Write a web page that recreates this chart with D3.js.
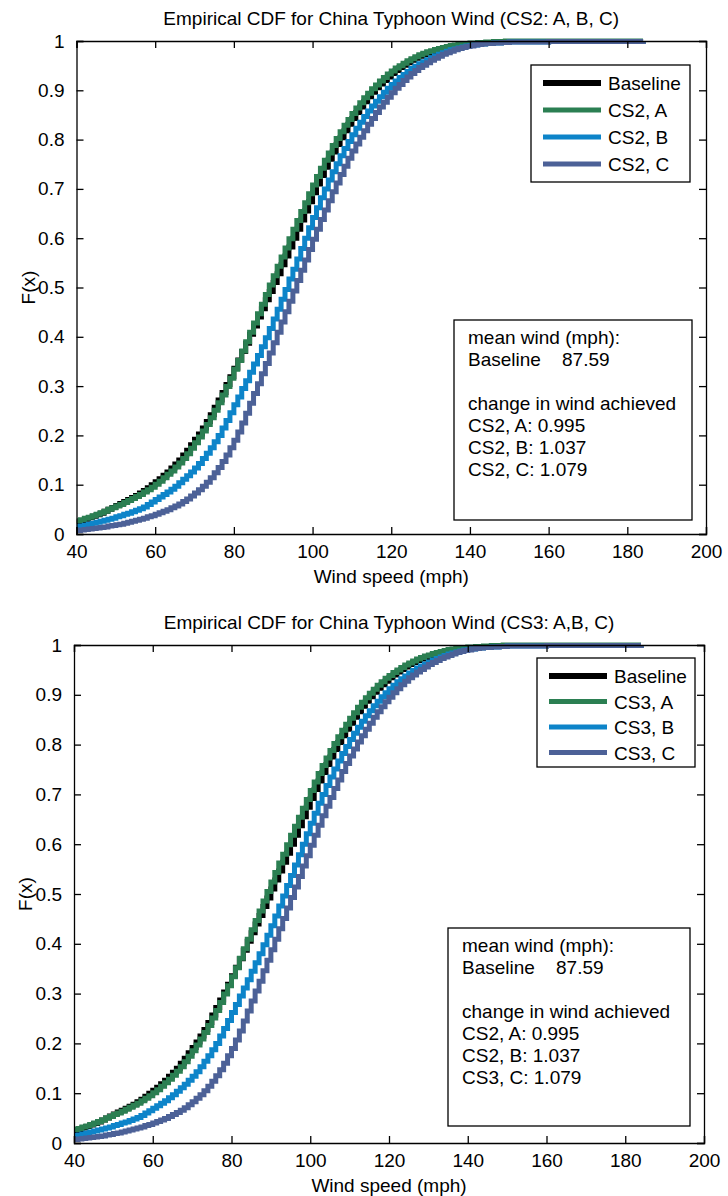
<!DOCTYPE html>
<html>
<head>
<meta charset="utf-8">
<script src="https://cdn.jsdelivr.net/npm/d3@7"></script>
<style>
  body { margin: 0; background: #fff; }
  svg { display: block; font-family: "Liberation Sans", Arial, sans-serif; }
</style>
</head>
<body>
<div id="chart"></div>
<script>
// wind speed grid (mph) at which the empirical CDFs step
const speeds = [40, 41, 42, 43, 44, 45, 46, 47, 48, 49,
  50, 51, 52, 53, 54, 55, 56, 57, 58, 59,
  60, 61, 62, 63, 64, 65, 66, 67, 68, 69,
  70, 71, 72, 73, 74, 75, 76, 77, 78, 79,
  80, 81, 82, 83, 84, 85, 86, 87, 88, 89,
  90, 91, 92, 93, 94, 95, 96, 97, 98, 99,
  100, 101, 102, 103, 104, 105, 106, 107, 108, 109,
  110, 111, 112, 113, 114, 115, 116, 117, 118, 119,
  120, 121, 122, 123, 124, 125, 126, 127, 128, 129,
  130, 131, 132, 133, 134, 135, 136, 137, 138, 139,
  140, 141, 142, 143, 144, 145, 146, 147, 148, 149,
  150, 160, 184];

const baseline = [.025, .027, .030, .033, .036, .039, .042, .046, .050, .054,
  .058, .062, .066, .070, .074, .078, .083, .088, .094, .100,
  .106, .112, .119, .126, .134, .142, .150, .160, .170, .181,
  .192, .203, .215, .228, .242, .257, .272, .287, .303, .319,
  .336, .353, .370, .387, .405, .422, .440, .457, .475, .492,
  .510, .528, .546, .564, .582, .600, .618, .637, .655, .674,
  .692, .710, .727, .744, .760, .775, .790, .804, .818, .831,
  .843, .855, .866, .877, .887, .896, .905, .913, .920, .927,
  .934, .940, .946, .951, .956, .961, .965, .969, .972, .975,
  .978, .981, .983, .985, .987, .989, .990, .992, .993, .994,
  .995, .995, .996, .996, .997, .997, .998, .998, .998, .998,
  .999, .999, 1];

const caseA = [.027, .029, .032, .034, .037, .040, .043, .046, .050, .053,
  .057, .060, .064, .068, .072, .076, .080, .085, .090, .095,
  .101, .107, .114, .121, .128, .136, .144, .153, .163, .174,
  .185, .197, .209, .222, .236, .251, .266, .282, .299, .316,
  .334, .352, .371, .390, .409, .428, .447, .466, .486, .505,
  .524, .543, .562, .580, .599, .618, .636, .654, .672, .690,
  .708, .725, .742, .758, .773, .788, .802, .816, .829, .841,
  .853, .864, .875, .885, .894, .903, .911, .919, .926, .933,
  .939, .945, .950, .955, .960, .964, .968, .972, .975, .978,
  .980, .983, .985, .987, .989, .991, .992, .993, .994, .995,
  .996, .996, .997, .997, .998, .998, .999, .999, .999, 1,
  1, 1, 1];

const caseB = [.015, .016, .018, .020, .022, .024, .026, .028, .030, .032,
  .035, .037, .040, .042, .045, .048, .051, .055, .060, .065,
  .070, .075, .080, .085, .091, .097, .104, .111, .118, .126,
  .134, .143, .153, .164, .175, .187, .200, .215, .230, .246,
  .262, .278, .295, .311, .328, .345, .362, .380, .398, .417,
  .436, .456, .476, .496, .517, .537, .558, .579, .600, .621,
  .642, .662, .682, .700, .718, .735, .751, .767, .782, .796,
  .810, .823, .835, .847, .858, .868, .878, .887, .896, .904,
  .912, .919, .926, .932, .938, .944, .949, .954, .958, .962,
  .966, .970, .973, .976, .979, .982, .984, .986, .988, .990,
  .991, .992, .993, .994, .995, .995, .996, .996, .997, .997,
  .998, .999, 1];

const caseC = [.007, .008, .009, .010, .011, .012, .013, .014, .016, .017,
  .019, .020, .022, .024, .026, .028, .030, .032, .035, .037,
  .040, .043, .046, .049, .053, .057, .061, .066, .071, .077,
  .083, .090, .097, .105, .114, .124, .135, .147, .160, .175,
  .190, .207, .225, .245, .265, .285, .305, .325, .346, .367,
  .388, .409, .430, .451, .472, .493, .514, .535, .556, .577,
  .598, .618, .638, .657, .676, .694, .712, .729, .746, .762,
  .777, .791, .805, .818, .831, .843, .855, .866, .876, .886,
  .895, .904, .912, .920, .927, .934, .940, .946, .951, .956,
  .961, .965, .969, .973, .976, .979, .982, .985, .987, .989,
  .990, .992, .993, .994, .995, .995, .996, .996, .997, .997,
  .998, .999, 1];

const xTicks = [40, 60, 80, 100, 120, 140, 160, 180, 200];
const yTicks = [0, 0.1, 0.2, 0.3, 0.4, 0.5, 0.6, 0.7, 0.8, 0.9, 1];
const colors = ["#000000", "#2b7f52", "#0d84c9", "#4c6197"];

const titles = ["Empirical CDF for China Typhoon Wind (CS2: A, B, C)",
  "Empirical CDF for China Typhoon Wind (CS3: A,B, C)"];
const legendTop = ["Baseline", "CS2, A", "CS2, B", "CS2, C"];
const legendBottom = ["Baseline", "CS3, A", "CS3, B", "CS3, C"];
const noteTop = ["mean wind (mph):", "Baseline    87.59", "", "change in wind achieved",
  "CS2, A: 0.995", "CS2, B: 1.037", "CS2, C: 1.079"];
const noteBottom = ["mean wind (mph):", "Baseline    87.59", "", "change in wind achieved",
  "CS2, A: 0.995", "CS2, B: 1.037", "CS3, C: 1.079"];

const svg = d3.select("#chart").append("svg")
  .attr("width", 728).attr("height", 1196);

function drawPanel(cfg) {
  const x = d3.scaleLinear().domain([40, 200]).range([cfg.left, cfg.right]);
  const y = d3.scaleLinear().domain([0, 1]).range([cfg.bottom, cfg.top]);
  const g = svg.append("g");
  const fs = 19;

  // clip curves to the axes box
  g.append("clipPath").attr("id", cfg.id)
    .append("rect")
    .attr("x", cfg.left).attr("y", cfg.top - 3)
    .attr("width", cfg.right - cfg.left).attr("height", cfg.bottom - cfg.top + 3);

  const line = d3.line()
    .x((d) => x(d[0]))
    .y((d) => y(d[1]))
    .curve(d3.curveStepAfter);

  const series = [baseline, caseA, caseB, caseC];
  g.append("g").attr("clip-path", `url(#${cfg.id})`)
    .selectAll("path")
    .data(series)
    .join("path")
    .attr("d", (vals) => line(speeds.map((s, i) => [s, vals[i]])))
    .attr("fill", "none")
    .attr("stroke", (d, i) => colors[i])
    .attr("stroke-width", 5)
    .attr("stroke-linejoin", "miter");

  // axes: bottom/left with labels, top/right mirrored inward ticks
  const tick = 7;
  const xb = g.append("g").attr("transform", `translate(0,${cfg.bottom})`)
    .call(d3.axisBottom(x).tickValues(xTicks).tickSize(-tick).tickPadding(tick + 4).tickFormat(d3.format("d")));
  const xt = g.append("g").attr("transform", `translate(0,${cfg.top})`)
    .call(d3.axisTop(x).tickValues(xTicks).tickSize(-tick).tickFormat(""));
  const yl = g.append("g").attr("transform", `translate(${cfg.left},0)`)
    .call(d3.axisLeft(y).tickValues(yTicks).tickSize(-tick).tickPadding(tick + 5).tickFormat((d) => d3.format("")(d)));
  const yr = g.append("g").attr("transform", `translate(${cfg.right},0)`)
    .call(d3.axisRight(y).tickValues(yTicks).tickSize(-tick).tickFormat(""));
  [xb, xt, yl, yr].forEach((a) => {
    a.select(".domain").attr("stroke", "#000").attr("stroke-width", 1.3);
    a.selectAll(".tick line").attr("stroke", "#000").attr("stroke-width", 1.3);
    a.selectAll("text").attr("fill", "#000").style("font-size", fs + "px").style("font-family", "Liberation Sans, Arial, sans-serif");
  });

  g.append("text")
    .attr("x", (cfg.left + cfg.right) / 2).attr("y", cfg.top - 16)
    .attr("text-anchor", "middle").style("font-size", fs + "px")
    .text(cfg.title);
  g.append("text")
    .attr("x", (cfg.left + cfg.right) / 2).attr("y", cfg.bottom + 49)
    .attr("text-anchor", "middle").style("font-size", fs + "px")
    .text("Wind speed (mph)");
  g.append("text")
    .attr("transform", `translate(${cfg.left - 42},${(cfg.top + cfg.bottom) / 2}) rotate(-90)`)
    .attr("text-anchor", "middle").style("font-size", fs + "px")
    .text("F(x)");

  // legend
  const lg = g.append("g");
  lg.append("rect")
    .attr("x", cfg.legend.x).attr("y", cfg.legend.y)
    .attr("width", cfg.legend.w).attr("height", cfg.legend.h)
    .attr("fill", "#fff").attr("stroke", "#000").attr("stroke-width", 1.3);
  const rows = lg.selectAll("g.row").data(cfg.legendLabels).join("g")
    .attr("class", "row")
    .attr("transform", (d, i) => `translate(${cfg.legend.x},${cfg.legend.y + 18 + i * cfg.legend.step})`);
  rows.append("line")
    .attr("x1", 12).attr("x2", 70).attr("y1", 0).attr("y2", 0)
    .attr("stroke", (d, i) => colors[i])
    .attr("stroke-width", (d, i) => (i === 0 ? 6 : 5));
  rows.append("text")
    .attr("x", 77).attr("y", 7)
    .style("font-size", fs + "px")
    .text((d) => d);

  // annotation box
  const nb = g.append("g");
  nb.append("rect")
    .attr("x", cfg.note.x).attr("y", cfg.note.y)
    .attr("width", cfg.note.w).attr("height", cfg.note.h)
    .attr("fill", "#fff").attr("stroke", "#000").attr("stroke-width", 1.3);
  nb.selectAll("text").data(cfg.noteLines).join("text")
    .attr("x", cfg.note.x + 14)
    .attr("y", (d, i) => cfg.note.y + 24 + i * 22)
    .style("font-size", fs + "px")
    .style("white-space", "pre")
    .attr("xml:space", "preserve")
    .text((d) => d);
}

drawPanel({
  id: "clipTop", left: 76.5, right: 706, top: 41, bottom: 534,
  title: titles[0], legendLabels: legendTop, noteLines: noteTop,
  legend: { x: 531, y: 65, w: 159, h: 117, step: 27 },
  note: { x: 454, y: 320, w: 238, h: 200 }
});
drawPanel({
  id: "clipBottom", left: 74, right: 704, top: 645, bottom: 1143,
  title: titles[1], legendLabels: legendBottom, noteLines: noteBottom,
  legend: { x: 537, y: 658, w: 158, h: 109, step: 25.5 },
  note: { x: 448, y: 928, w: 242, h: 198 }
});
</script>
</body>
</html>
